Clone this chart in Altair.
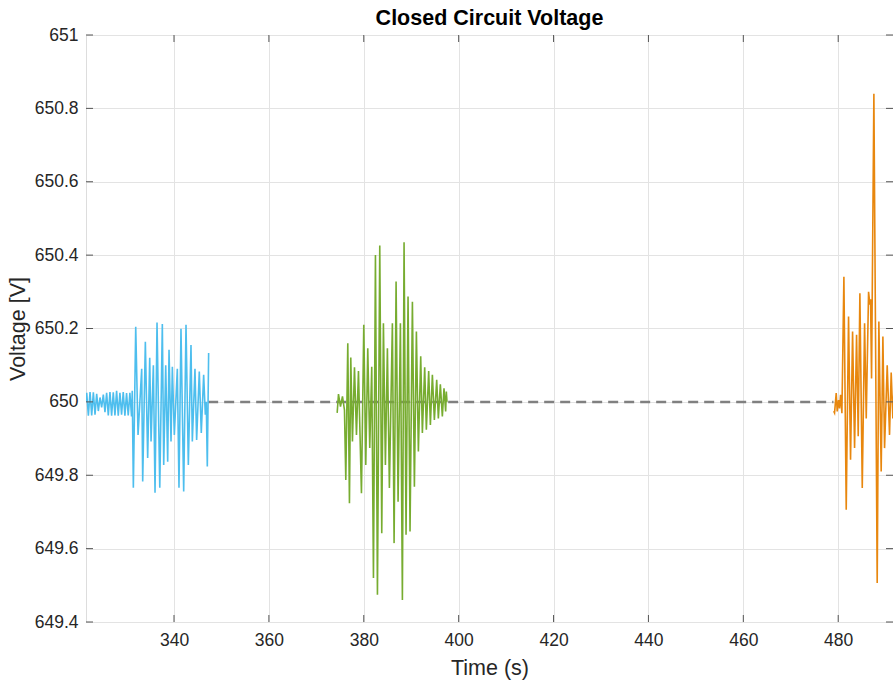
import altair as alt
import pandas as pd

# ---- data ----
blue_t = [321.45, 321.6, 321.95, 322.3, 322.65, 323.0, 323.35, 323.7, 324.05, 324.4,
          324.75, 325.1, 325.45, 325.8, 326.15, 326.5, 326.85, 327.2, 327.55, 327.9,
          328.25, 328.6, 328.95, 329.3, 329.65, 330.0, 330.35, 330.7, 331.05, 331.2,
          331.43, 331.93, 332.42, 333.19, 333.40, 333.96, 334.45, 334.88, 335.16, 335.65,
          336.0, 336.42, 337.0, 337.54, 337.83, 338.25, 338.67, 338.95, 339.37, 339.65,
          340.07, 340.70, 341.05, 341.47, 342.04, 342.53, 343.02, 343.58, 343.86, 344.42,
          344.77, 345.33, 345.75, 346.25, 346.60, 346.8, 347.02, 347.30]
blue_v = [650.0, 650.025, 649.962, 650.027, 649.963, 650.026, 649.965, 650.022, 649.975, 650.012,
          649.985, 650.02, 649.972, 650.025, 649.963, 650.027, 649.962, 650.026, 649.963, 650.03,
          649.962, 650.025, 649.965, 650.027, 649.962, 650.024, 649.963, 650.025, 649.96, 650.03,
          649.766, 650.205, 649.91, 650.09, 649.783, 650.164, 649.847, 650.12, 649.892, 650.10,
          649.752, 650.216, 649.766, 650.212, 649.828, 650.10, 649.837, 650.142, 649.892, 650.096,
          649.91, 650.09, 649.766, 650.199, 649.756, 650.21, 649.828, 650.155, 649.892, 650.09,
          649.896, 650.083, 649.915, 650.074, 649.965, 650.0, 649.824, 650.133]

green_t = [374.39, 374.67, 375.09, 375.51, 375.93, 376.21, 376.63, 376.98, 377.26, 377.61,
           378.04, 378.46, 378.88, 379.51, 380.0, 380.42, 380.84, 381.26, 381.68, 382.04,
           382.46, 382.88, 383.37, 383.79, 384.14, 384.56, 384.98, 385.40, 386.03, 386.39,
           386.81, 387.23, 387.72, 388.14, 388.49, 388.91, 389.33, 389.75, 390.25, 390.67,
           391.09, 391.51, 392.0, 392.35, 392.84, 393.19, 393.68, 394.04, 394.46, 394.88,
           395.37, 395.72, 396.14, 396.56, 396.91, 397.26, 397.40, 397.54]
green_v = [649.97, 650.021, 649.987, 650.015, 649.978, 649.787, 650.16, 649.724, 650.121, 649.892,
           650.094, 649.91, 650.084, 649.751, 650.21, 649.828, 650.146, 649.874, 650.096, 649.52,
           650.40, 649.474, 650.426, 649.642, 650.214, 649.828, 650.146, 649.765, 650.214, 649.615,
           650.328, 649.728, 650.214, 649.46, 650.435, 649.638, 650.287, 649.647, 650.273, 649.769,
           650.192, 649.865, 650.124, 649.915, 650.094, 649.924, 650.084, 649.937, 650.074, 649.951,
           650.06, 649.955, 650.048, 649.96, 650.037, 649.974, 650.028, 650.0]

orange_t = [479.05, 479.23, 479.58, 479.79, 480.07, 480.28, 480.50, 480.78, 481.20, 481.69,
            482.18, 482.60, 483.03, 483.45, 483.87, 484.22, 484.57, 485.07, 485.56, 485.91,
            486.40, 486.68, 486.82, 487.03, 487.52, 488.22, 488.57, 489.06, 489.42, 489.77,
            490.33, 490.82, 491.17, 491.52, 491.8]
orange_v = [649.975, 649.97, 650.024, 649.974, 650.005, 649.982, 650.019, 649.969, 650.341, 649.706,
            650.233, 649.842, 650.192, 649.874, 650.183, 649.906, 650.296, 649.765, 650.214, 649.955,
            650.30, 650.265, 650.28, 650.064, 650.84, 649.506, 650.219, 649.81, 650.178, 649.874,
            650.10, 649.91, 650.08, 649.955, 650.05]

ref_t = [347.2, 479.0]
ref_v = [650.0, 650.0]

x_ticks = [340, 360, 380, 400, 420, 440, 460, 480]
y_ticks = [649.4, 649.6, 649.8, 650, 650.2, 650.4, 650.6, 650.8, 651]

X_DOM = [321.45, 491.55]
Y_DOM = [649.4, 651.0]
W, H = 807, 587

def frame(t, v, name):
    return pd.DataFrame({"t": t, "v": v, "s": [name] * len(t)})

df = pd.concat([frame(blue_t, blue_v, "blue"), frame(green_t, green_v, "green"),
                frame(orange_t, orange_v, "orange")])
df_ref = frame(ref_t, ref_v, "ref")

xs = alt.Scale(domain=X_DOM, nice=False, zero=False)
ys = alt.Scale(domain=Y_DOM, nice=False, zero=False)

x_axis = alt.Axis(title="Time (s)", values=x_ticks, grid=True, tickSize=0, domain=False,
                  labelFontSize=17.5, titleFontSize=21.5, labelPadding=9, titlePadding=9,
                  labelColor="#262626", titleColor="#262626", titleFontWeight="normal",
                  gridColor="#e3e3e3")
y_axis = alt.Axis(title="Voltage [V]", values=y_ticks, grid=True, tickSize=0, domain=False,
                  labelFontSize=17.5, titleFontSize=21.5, labelPadding=8, titlePadding=5,
                  labelColor="#262626", titleColor="#262626", titleFontWeight="normal",
                  gridColor="#e3e3e3",
                  labelExpr="datum.value == 650 ? '650' : datum.value == 651 ? '651' : format(datum.value, '.1f')")

base = alt.Chart(df)

ref_line = alt.Chart(df_ref).mark_line(color="#808080", strokeWidth=2.5, strokeDash=[10, 6], clip=True).encode(
    x=alt.X("t:Q", scale=xs, axis=x_axis),
    y=alt.Y("v:Q", scale=ys, axis=y_axis),
)

series = base.mark_line(strokeWidth=1.6, clip=True).encode(
    x=alt.X("t:Q", scale=xs),
    y=alt.Y("v:Q", scale=ys),
    detail="s:N",
    color=alt.Color("s:N", scale=alt.Scale(domain=["blue", "green", "orange"],
                                           range=["#4DBEEE", "#77AC30", "#E8870E"]), legend=None),
)

xt = pd.DataFrame({"t": x_ticks})
yt = pd.DataFrame({"v": y_ticks})
tick_c = "#555555"
xtick_b = alt.Chart(xt).mark_rule(color=tick_c, strokeWidth=1).encode(
    x=alt.X("t:Q", scale=xs), y=alt.value(H), y2=alt.value(H - 7))
xtick_t = alt.Chart(xt).mark_rule(color=tick_c, strokeWidth=1).encode(
    x=alt.X("t:Q", scale=xs), y=alt.value(0), y2=alt.value(7))
ytick_l = alt.Chart(yt).mark_rule(color=tick_c, strokeWidth=1).encode(
    y=alt.Y("v:Q", scale=ys), x=alt.value(0), x2=alt.value(7))
ytick_r = alt.Chart(yt).mark_rule(color=tick_c, strokeWidth=1).encode(
    y=alt.Y("v:Q", scale=ys), x=alt.value(W - 7), x2=alt.value(W))

chart = alt.layer(ref_line, series, xtick_b, xtick_t, ytick_l, ytick_r).properties(
    width=W, height=H,
    title=alt.TitleParams("Closed Circuit Voltage", fontSize=21.5, fontWeight="bold",
                          color="#000000", offset=2, dy=5, anchor="middle"),
    autosize=alt.AutoSizeParams(type="none"),
    padding={"left": 86, "top": 35, "right": 0, "bottom": 59},
).configure_view(stroke="#5a5a5a", strokeWidth=1).configure(
    font="Liberation Sans", background="white"
)

chart.save("out.html", embed_options={"renderer": "svg", "actions": False})
